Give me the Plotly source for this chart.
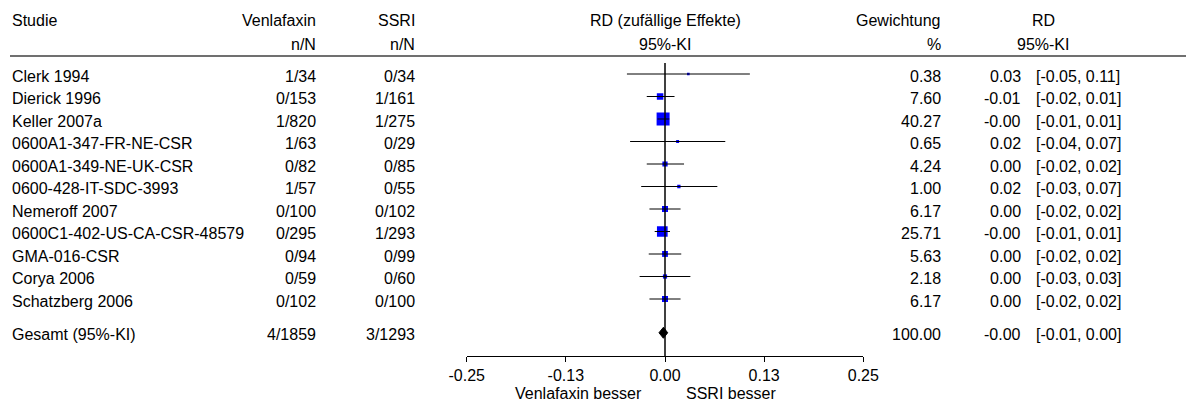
import plotly.graph_objects as go

# ---------------- data ----------------
studies = ["Clerk 1994", "Dierick 1996", "Keller 2007a", "0600A1-347-FR-NE-CSR",
           "0600A1-349-NE-UK-CSR", "0600-428-IT-SDC-3993", "Nemeroff 2007",
           "0600C1-402-US-CA-CSR-48579", "GMA-016-CSR", "Corya 2006", "Schatzberg 2006"]
venla_events = [1, 0, 1, 1, 0, 1, 0, 0, 0, 0, 0]
venla_total = [34, 153, 820, 63, 82, 57, 100, 295, 94, 59, 102]
ssri_events = [0, 1, 1, 0, 0, 0, 0, 1, 0, 0, 0]
ssri_total = [34, 161, 275, 29, 85, 55, 102, 293, 99, 60, 100]
weights = [0.38, 7.60, 40.27, 0.65, 4.24, 1.00, 6.17, 25.71, 5.63, 2.18, 6.17]
rd_est = [0.0294, -0.0062, -0.0024, 0.0159, 0.0, 0.0175, 0.0, -0.0034, 0.0, 0.0, 0.0]
ci_lo = [-0.048, -0.023, -0.0095, -0.044, -0.023, -0.030, -0.0196, -0.013, -0.0205, -0.032, -0.0196]
ci_hi = [0.107, 0.012, 0.0055, 0.076, 0.024, 0.066, 0.0196, 0.0063, 0.0205, 0.032, 0.0196]
rd_labels = ["0.03", "-0.01", "-0.00", "0.02", "0.00", "0.02", "0.00", "-0.00", "0.00", "0.00", "0.00"]
ci_labels = ["[-0.05, 0.11]", "[-0.02, 0.01]", "[-0.01, 0.01]", "[-0.04, 0.07]", "[-0.02, 0.02]",
             "[-0.03, 0.07]", "[-0.02, 0.02]", "[-0.01, 0.01]", "[-0.02, 0.02]", "[-0.03, 0.03]",
             "[-0.02, 0.02]"]

total_label = "Gesamt (95%-KI)"
total_venla = "4/1859"
total_ssri = "3/1293"
total_weight = "100.00"
total_est = -0.002
total_lo = -0.0076
total_hi = 0.0034
total_rd_label = "-0.00"
total_ci_label = "[-0.01, 0.00]"

tick_vals = [-0.25, -0.125, 0.0, 0.125, 0.25]
tick_text = ["-0.25", "-0.13", "0.00", "0.13", "0.25"]
x_range = [-0.25, 0.25]

# ---------------- layout constants ----------------
PAGE_W, PAGE_H = 1194, 412
OFF = 8                      # default page margin of the html body
W, H = PAGE_W - OFF, PAGE_H - OFF
ROW0_PX, ROW_STEP = 74.0, 22.5   # page pixel of first row, row spacing
FONT = "Liberation Sans, Arial, sans-serif"
FS = 16
TEXT_SHIFT = -2


def fx(px):
    """page x pixel -> paper fraction"""
    return (px - OFF) / W


def fy(px):
    """page y pixel -> paper fraction"""
    return 1 - (px - OFF) / H


def row_of(px):
    return (px - ROW0_PX) / ROW_STEP


rows = list(range(len(studies)))
total_row = len(studies) + 0.5
axis_px = 356.0

fig = go.Figure()

# weight squares (area proportional to weight)
sizes = [1.5 + 11.5 * (w / max(weights)) ** 0.5 for w in weights]
fig.add_trace(go.Scatter(x=rd_est, y=rows, mode="markers", opacity=1,
                         marker=dict(symbol="square", size=sizes, color="#0000FF", opacity=1,
                                     line=dict(width=0)),
                         showlegend=False))

# CI lines
xs, ys = [], []
for r, lo, hi in zip(rows, ci_lo, ci_hi):
    xs += [lo, hi, None]
    ys += [r, r, None]
fig.add_trace(go.Scatter(x=xs, y=ys, mode="lines", line=dict(color="black", width=1),
                         hoverinfo="skip", showlegend=False))

# pooled diamond
dh = 5.5 / ROW_STEP
fig.add_trace(go.Scatter(x=[total_lo, total_est, total_hi, total_est, total_lo],
                         y=[total_row, total_row - dh, total_row, total_row + dh, total_row],
                         mode="lines", fill="toself", fillcolor="black",
                         line=dict(color="black", width=1), showlegend=False))

ann = []


def add_text(text, xpx, ydata=None, ypx=None, anchor="left"):
    d = dict(text=text, x=fx(xpx), xref="paper", xanchor=anchor, yanchor="middle",
             showarrow=False, borderpad=0, font=dict(family=FONT, size=FS, color="black"))
    if ydata is not None:
        d.update(y=ydata, yref="y", yshift=TEXT_SHIFT)
    else:
        d.update(y=fy(ypx), yref="paper")
    ann.append(d)


# header
H1, H2 = 20, 45
add_text("Studie", 11, ypx=H1, anchor="left")
add_text("Venlafaxin", 317, ypx=H1, anchor="right")
add_text("n/N", 317, ypx=H2, anchor="right")
add_text("SSRI", 416, ypx=H1, anchor="right")
add_text("n/N", 416, ypx=H2, anchor="right")
add_text("RD (zufällige Effekte)", 665, ypx=H1, anchor="center")
add_text("95%-KI", 665, ypx=H2, anchor="center")
add_text("Gewichtung", 942, ypx=H1, anchor="right")
add_text("%", 942, ypx=H2, anchor="right")
add_text("RD", 1043, ypx=H1, anchor="center")
add_text("95%-KI", 1043, ypx=H2, anchor="center")

for r, s, ve, vn, se, sn, w, rl, cl in zip(rows, studies, venla_events, venla_total,
                                          ssri_events, ssri_total, weights, rd_labels, ci_labels):
    add_text(s, 11, ydata=r, anchor="left")
    add_text(f"{ve}/{vn}", 317, ydata=r, anchor="right")
    add_text(f"{se}/{sn}", 416, ydata=r, anchor="right")
    add_text(f"{w:.2f}", 942, ydata=r, anchor="right")
    add_text(rl, 1022, ydata=r, anchor="right")
    add_text(cl, 1035, ydata=r, anchor="left")

add_text(total_label, 11, ydata=total_row, anchor="left")
add_text(total_venla, 317, ydata=total_row, anchor="right")
add_text(total_ssri, 416, ydata=total_row, anchor="right")
add_text(total_weight, 942, ydata=total_row, anchor="right")
add_text(total_rd_label, 1022, ydata=total_row, anchor="right")
add_text(total_ci_label, 1035, ydata=total_row, anchor="left")

# favour labels
for txt, anc, shift in [("Venlafaxin besser", "right", -22), ("SSRI besser", "left", 20)]:
    ann.append(dict(text=txt, x=0, xref="x", xanchor=anc, xshift=shift,
                    y=fy(393), yref="paper", yanchor="middle", showarrow=False, borderpad=0,
                    font=dict(family=FONT, size=FS, color="black")))

shapes = [
    dict(type="line", xref="paper", yref="paper", x0=fx(10), x1=1, y0=fy(56), y1=fy(56),
         line=dict(color="#404040", width=1.6)),
    dict(type="line", xref="x", yref="paper", x0=0, x1=0, y0=fy(63), y1=fy(axis_px),
         line=dict(color="black", width=1.5)),
]

fig.update_layout(
    width=W, height=H,
    margin=dict(l=0, r=0, t=0, b=0, pad=0, autoexpand=False),
    paper_bgcolor="white", plot_bgcolor="white",
    showlegend=False,
    annotations=ann, shapes=shapes,
    font=dict(family=FONT, size=FS, color="black"),
    xaxis=dict(domain=[fx(466.7), fx(863.3)], range=x_range, anchor="free",
               position=fy(axis_px), showgrid=False, zeroline=False,
               showline=True, linecolor="black", linewidth=1, automargin=False,
               ticks="outside", ticklen=5, tickcolor="black", tickwidth=1,
               tickvals=tick_vals, ticktext=tick_text,
               tickfont=dict(family=FONT, size=FS, color="black"), fixedrange=True),
    yaxis=dict(domain=[0, 1], range=[row_of(PAGE_H), row_of(OFF)], visible=False,
               showgrid=False, zeroline=False, fixedrange=True, automargin=False),
)

fig.write_html("out.html")
